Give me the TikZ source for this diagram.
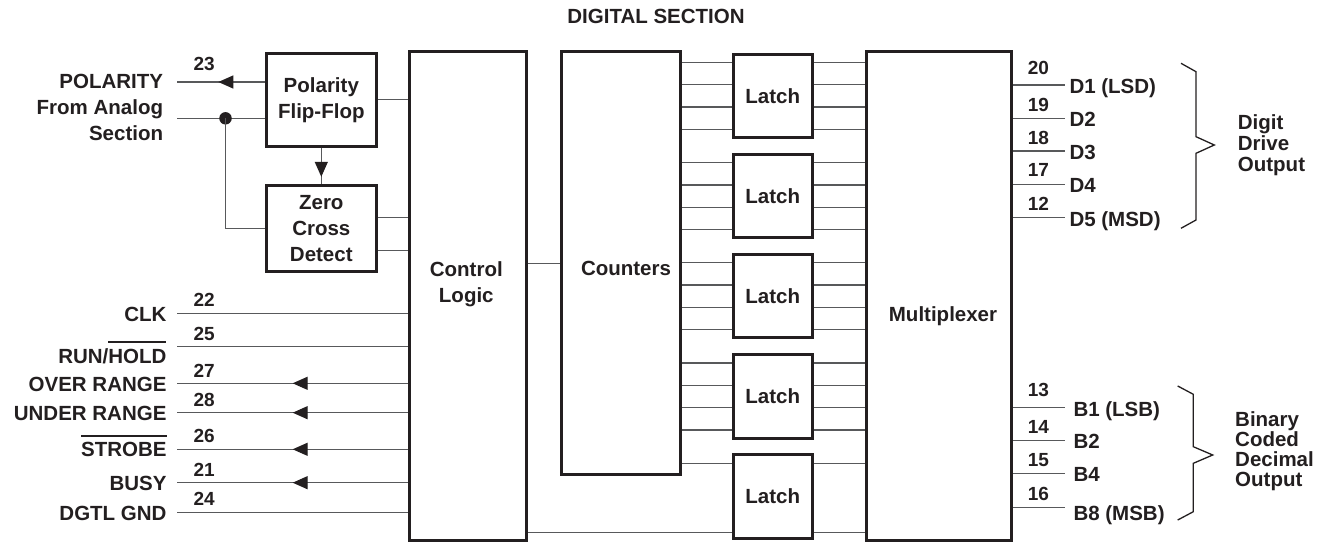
\documentclass[tikz,border=0pt]{standalone}
\usepackage{fontspec}
\setmainfont{Liberation Sans}
\usetikzlibrary{arrows.meta,decorations.markings,calc}

\definecolor{ink}{HTML}{231F20}
\definecolor{wirec}{HTML}{58595B}

% bar over a word (active low pins)
\newcommand\barred[1]{\vbox{\hrule height 1.8pt\kern 5.5pt\hbox{#1}}}

\tikzset{
  block/.style={draw=ink, line width=3pt, inner sep=0pt, align=center},
  latchbox/.style={block, minimum width=79pt, minimum height=83.3pt},
  wire/.style={draw=wirec, line width=1.3pt},
  brace/.style={draw=ink, line width=1.3pt},
  midarrow/.style={postaction={decorate}, decoration={markings,
    mark=at position #1 with {\arrow{Triangle[length=15pt,width=13pt,color=ink]}}}},
  lbl/.style={inner sep=0pt, text=ink},
  pinno/.style={lbl, anchor=base west, font=\fontsize{19}{19}\selectfont\bfseries},
  pinname/.style={lbl, anchor=base east},
}

\begin{document}
\begin{tikzpicture}[x=1pt, y=-1pt, font=\fontsize{20.5}{26}\selectfont\bfseries, text=ink]
    \useasboundingbox (0,0) rectangle (1328,543);

    % Title
    \node[lbl, anchor=base] (title) at (656,23.3) {DIGITAL SECTION};

    % Blocks
    \node[block, minimum width=109.7pt, minimum height=93.3pt] (pff) at (321.3,99.8) {Polarity\\Flip-Flop};
    \node[block, minimum width=109.7pt, minimum height=86pt] (zcd) at (321.3,228.5) {Zero\\Cross\\Detect};
    \node[block, minimum width=117pt, minimum height=488pt] (ctl) at (468.3,296) {};
    \node[lbl, align=center] (ctltxt) at (466.3,284.2) {Control\\Logic};
    \node[block, minimum width=118.7pt, minimum height=422.4pt] (cnt) at (620.8,263.2) {};
    \node[lbl, anchor=base] (cnttxt) at (626,275) {Counters};
    \foreach \i in {1,...,5}
        \node[latchbox] (l\i) at (772.7,{95.9+100.15*(\i-1)}) {Latch};
    \node[block, minimum width=145.3pt, minimum height=488pt] (mux) at (939.2,296) {};
    \node[lbl, anchor=base] (muxtxt) at (943,321.7) {Multiplexer};

    % Polarity input / output
    \coordinate (p23) at (177,82);
    \coordinate (pin) at (177,118.3);
    \draw[wire, midarrow=0.53] (pff.west |- p23) -- (p23);
    \draw[wire] (pin) -- (pin -| pff.west);
    \node[circle, fill=ink, inner sep=0pt, minimum size=12.5pt] (jn) at (225.5,118.3) {};
    \draw[wire] (jn.center) |- (zcd.west);
    \draw[wire, midarrow=0.8] (pff.south) -- (zcd.north);
    \node[pinno] (n23) at (193.3,70.7) {23};
    \node[lbl, anchor=north east, align=right] (poltxt) at (163.3,73.6) {POLARITY\\From Analog\\Section};

    % Into control logic
    \draw[wire] (pff.east) -- (pff.east -| ctl.west);
    \coordinate (z1) at ([yshift=10.8pt]zcd.east);
    \coordinate (z2) at ([yshift=-22.2pt]zcd.east);
    \draw[wire] (z1) -- (z1 -| ctl.west);
    \draw[wire] (z2) -- (z2 -| ctl.west);
    \draw[wire] (cnt.west -| ctl.east) -- (cnt.west);

    % Left pins
    \coordinate (p22) at (177,313.3);
    \coordinate (p25) at (177,346.7);
    \coordinate (p27) at (177,383.3);
    \coordinate (p28) at (177,412.7);
    \coordinate (p26) at (177,449.3);
    \coordinate (p21) at (177,482.7);
    \coordinate (p24) at (177,512.3);
    \draw[wire] (p22) -- (p22 -| ctl.west);
    \draw[wire] (p25) -- (p25 -| ctl.west);
    \draw[wire, midarrow=0.5] (p27 -| ctl.west) -- (p27);
    \draw[wire, midarrow=0.5] (p28 -| ctl.west) -- (p28);
    \draw[wire, midarrow=0.5] (p26 -| ctl.west) -- (p26);
    \draw[wire, midarrow=0.5] (p21 -| ctl.west) -- (p21);
    \draw[wire] (p24) -- (p24 -| ctl.west);

    \node[pinno] (n22) at (193.3,306.7) {22};
    \node[pinno] (n25) at (193.3,340) {25};
    \node[pinno] (n27) at (193.3,377.3) {27};
    \node[pinno] (n28) at (193.3,406) {28};
    \node[pinno] (n26) at (193.3,442.7) {26};
    \node[pinno] (n21) at (193.3,476) {21};
    \node[pinno] (n24) at (193.3,505) {24};

    \node[pinname] (clk) at (166.7,321.7) {CLK};
    \node[pinname] (run) at (166.7,363) {RUN/\barred{HOLD}};
    \node[pinname] (ovr) at (166.7,391.7) {OVER RANGE};
    \node[pinname] (und) at (166.7,420) {UNDER RANGE};
    \node[pinname] (stb) at (166.7,456.7) {\barred{STROBE}};
    \node[pinname] (bsy) at (166.7,490) {BUSY};
    \node[pinname] (gnd) at (166.7,520) {DGTL GND};

    % Counters -> latches -> multiplexer
    \foreach \i in {1,...,4}
        \foreach \o in {33.5,11.2,-11.2,-33.5} {
            \coordinate (wl) at ([yshift=\o pt]l\i.west);
            \coordinate (wr) at ([yshift=\o pt]l\i.east);
            \draw[wire] (wl -| cnt.east) -- (wl);
            \draw[wire] (wr) -- (wr -| mux.west);
        }
    \coordinate (wl) at ([yshift=33.2pt]l5.west);
    \coordinate (wr) at ([yshift=33.2pt]l5.east);
    \draw[wire] (wl -| cnt.east) -- (wl);
    \draw[wire] (wr) -- (wr -| mux.west);
    \coordinate (wl) at ([yshift=-36.3pt]l5.west);
    \coordinate (wr) at ([yshift=-36.3pt]l5.east);
    \draw[wire] (wl -| ctl.east) -- (wl);
    \draw[wire] (wr) -- (wr -| mux.west);

    % Digit drive outputs
    \coordinate (d1) at (1065,85);
    \coordinate (d2) at (1065,118.3);
    \coordinate (d3) at (1065,151);
    \coordinate (d4) at (1065,184.3);
    \coordinate (d5) at (1065,217.3);
    \draw[wire] (d1 -| mux.east) -- (d1);
    \draw[wire] (d2 -| mux.east) -- (d2);
    \draw[wire] (d3 -| mux.east) -- (d3);
    \draw[wire] (d4 -| mux.east) -- (d4);
    \draw[wire] (d5 -| mux.east) -- (d5);
    \node[pinno] (n20) at (1027.7,74.3) {20};
    \node[pinno] (n19) at (1027.7,111.7) {19};
    \node[pinno] (n18) at (1027.7,144) {18};
    \node[pinno] (n17) at (1027.7,176.7) {17};
    \node[pinno] (n12) at (1027.7,210) {12};
    \node[lbl, anchor=base west] (td1) at (1069.3,93.3) {D1 (LSD)};
    \node[lbl, anchor=base west] (td2) at (1069.3,126.3) {D2};
    \node[lbl, anchor=base west] (td3) at (1069.3,159) {D3};
    \node[lbl, anchor=base west] (td4) at (1069.3,192.3) {D4};
    \node[lbl, anchor=base west] (td5) at (1069.3,226.7) {D5 (MSD)};
    \draw[brace] (1181,63.3) -- (1196,71.7) -- (1196,136.7) -- (1214.3,145)
        -- (1196,153.3) -- (1196,220) -- (1181,228.3);
    \node[lbl, anchor=north west, align=left, font=\fontsize{20.5}{20.7}\selectfont\bfseries] (ddo) at (1237.7,114.6) {Digit\\Drive\\Output};

    % BCD outputs
    \coordinate (b1) at (1065,407.3);
    \coordinate (b2) at (1065,440.7);
    \coordinate (b4) at (1065,473.3);
    \coordinate (b8) at (1065,507.3);
    \draw[wire] (b1 -| mux.east) -- (b1);
    \draw[wire] (b2 -| mux.east) -- (b2);
    \draw[wire] (b4 -| mux.east) -- (b4);
    \draw[wire] (b8 -| mux.east) -- (b8);
    \node[pinno] (n13) at (1027.7,396.7) {13};
    \node[pinno] (n14) at (1027.7,433) {14};
    \node[pinno] (n15) at (1027.7,466.7) {15};
    \node[pinno] (n16) at (1027.7,500) {16};
    \node[lbl, anchor=base west] (tb1) at (1073.3,416.7) {B1 (LSB)};
    \node[lbl, anchor=base west] (tb2) at (1073.3,448) {B2};
    \node[lbl, anchor=base west] (tb4) at (1073.3,481.7) {B4};
    \node[lbl, anchor=base west] (tb8) at (1073.3,520.7) {B8 (MSB)};
    \draw[brace] (1177.7,386) -- (1193.3,394.3) -- (1193.3,446.7) -- (1212.7,455)
        -- (1193.3,463.3) -- (1193.3,511.7) -- (1177.7,520);
    \node[lbl, anchor=north west, align=left, font=\fontsize{20.5}{20.3}\selectfont\bfseries] (bcd) at (1235,411) {Binary\\Coded\\Decimal\\Output};
\end{tikzpicture}
\end{document}
